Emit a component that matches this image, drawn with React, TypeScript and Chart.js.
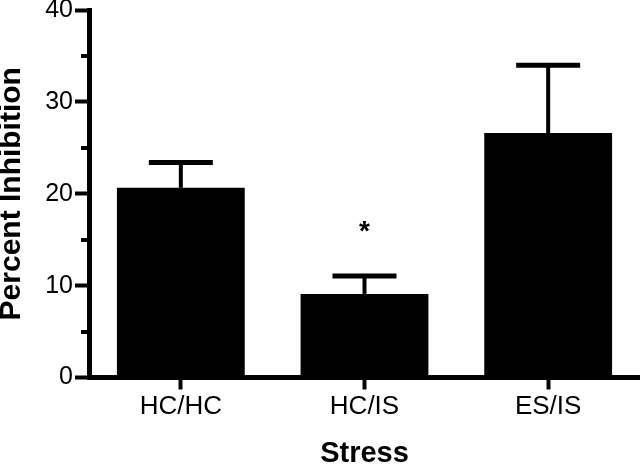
import React, { useEffect, useRef } from "react";
import { Chart, registerables } from "chart.js";

Chart.register(...registerables);

const categories = ["HC/HC", "HC/IS", "ES/IS"];
const meanValues = [20.65, 9.1, 26.6];
const semValues = [2.75, 1.95, 7.4];
const significance = ["", "*", ""];
const yMajorTicks = [0, 10, 20, 30, 40];
const yMinorTicks = [5, 15, 25, 35];

const FONT = "'Liberation Sans', Arial, Helvetica, sans-serif";

const extrasPlugin = {
  id: "extras",
  afterDatasetsDraw(chart: any) {
    const ctx = chart.ctx;
    const yScale = chart.scales.y;
    const meta = chart.getDatasetMeta(0);
    ctx.save();
    ctx.strokeStyle = "#000";
    ctx.fillStyle = "#000";
    meta.data.forEach((bar: any, i: number) => {
      const x = bar.x;
      const yBar = bar.y;
      const yTop = yScale.getPixelForValue(meanValues[i] + semValues[i]);
      ctx.lineCap = "butt";
      ctx.lineWidth = 4;
      ctx.beginPath();
      ctx.moveTo(x, yBar);
      ctx.lineTo(x, yTop);
      ctx.stroke();
      ctx.lineWidth = 5;
      ctx.beginPath();
      ctx.moveTo(x - 32, yTop);
      ctx.lineTo(x + 32, yTop);
      ctx.stroke();
      if (significance[i]) {
        ctx.font = `bold 28px ${FONT}`;
        ctx.textAlign = "center";
        ctx.textBaseline = "alphabetic";
        ctx.fillText(significance[i], x, yTop - 36);
      }
    });
    ctx.restore();
  },
  afterDraw(chart: any) {
    const ctx = chart.ctx;
    const yScale = chart.scales.y;
    ctx.save();
    ctx.strokeStyle = "#000";
    ctx.lineWidth = 4;
    yMinorTicks.forEach((v) => {
      const y = Math.round(yScale.getPixelForValue(v));
      ctx.beginPath();
      ctx.moveTo(yScale.right - 8, y);
      ctx.lineTo(yScale.right, y);
      ctx.stroke();
    });
    ctx.restore();
  },
};

export default function App() {
  const ref = useRef<HTMLCanvasElement | null>(null);
  useEffect(() => {
    if (!ref.current) return;
    const chart = new Chart(ref.current, {
      type: "bar",
      data: {
        labels: categories,
        datasets: [
          {
            data: meanValues,
            backgroundColor: "#000",
            borderWidth: 0,
            barPercentage: 0.696,
            categoryPercentage: 1,
          },
        ],
      },
      options: {
        responsive: false,
        animation: false,
        devicePixelRatio: 1,
        layout: { padding: { top: 10, left: 0, right: 0, bottom: 0 } },
        plugins: { legend: { display: false }, tooltip: { enabled: false } },
        scales: {
          x: {
            grid: {
              display: true,
              drawOnChartArea: false,
              drawTicks: true,
              tickLength: 12,
              tickWidth: 4,
              tickColor: "#000",
              offset: false,
            },
            border: { display: true, color: "#000", width: 5 },
            ticks: {
              color: "#000",
              font: { family: FONT, size: 26 },
              padding: 2,
              maxRotation: 0,
            },
            title: {
              display: true,
              text: "Stress",
              color: "#000",
              font: { family: FONT, size: 29, weight: "bold", lineHeight: 0.9 },
              padding: 0,
            },
            afterFit: (s: any) => {
              s.height = 89.5;
              s.paddingLeft = 0;
              s.paddingRight = 0;
            },
          },
          y: {
            min: 0,
            max: 40,
            afterBuildTicks: (s: any) => {
              s.ticks = yMajorTicks.map((v) => ({ value: v }));
            },
            ticks: {
              color: "#000",
              font: { family: FONT, size: 25 },
              padding: 2,
            },
            grid: {
              display: true,
              drawOnChartArea: false,
              drawTicks: true,
              tickLength: 14,
              tickWidth: 4,
              tickColor: "#000",
            },
            border: { display: true, color: "#000", width: 5 },
            title: {
              display: true,
              text: "Percent Inhibition",
              color: "#000",
              font: { family: FONT, size: 30, weight: "bold", lineHeight: 0.8 },
              padding: 0,
            },
            afterFit: (s: any) => {
              s.width = 89;
              s.paddingTop = 0;
              s.paddingBottom = 0;
            },
          },
        },
      },
      plugins: [extrasPlugin],
    });
    return () => chart.destroy();
  }, []);
  return (
    <div style={{ position: "fixed", left: 0, top: 0, width: 640, height: 467, background: "#fff" }}>
      <canvas ref={ref} width={640} height={467} style={{ display: "block" }} />
    </div>
  );
}
